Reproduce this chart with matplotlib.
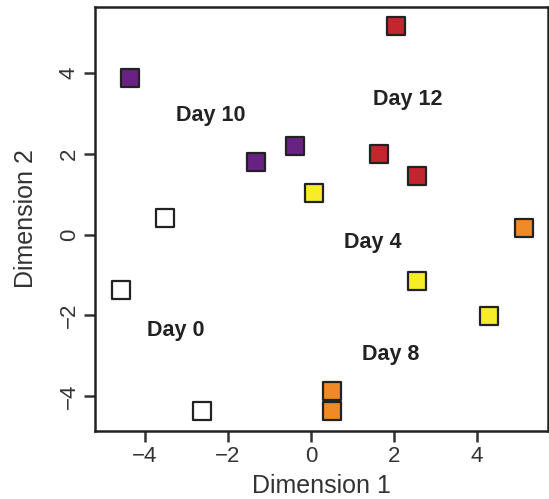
import numpy as np
import matplotlib.pyplot as plt

plt.rcParams['font.family'] = ['Liberation Sans', 'DejaVu Sans']

# MDS coordinates per time point
day0_x = [-3.52, -4.58, -2.63]
day0_y = [0.40, -1.37, -4.37]
day4_x = [0.07, 2.55, 4.29]
day4_y = [1.02, -1.14, -2.01]
day8_x = [5.13, 0.51, 0.51]
day8_y = [0.17, -3.88, -4.37]
day10_x = [-4.36, -1.33, -0.39]
day10_y = [3.88, 1.79, 2.19]
day12_x = [2.05, 1.64, 2.55]
day12_y = [5.17, 1.99, 1.44]

labels = ['Day 0', 'Day 4', 'Day 8', 'Day 10', 'Day 12']
label_x = [-3.25, 1.49, 1.93, -2.41, 2.34]
label_y = [-2.39, -0.20, -2.98, 2.96, 3.35]

fig = plt.figure(figsize=(5.49, 4.99), dpi=100)
ax = fig.add_axes([95/549, 68/499, 453/549, 424/499])

groups = [(day0_x, day0_y, 'white'),
          (day4_x, day4_y, '#f7ec2c'),
          (day8_x, day8_y, '#f08a24'),
          (day10_x, day10_y, '#6a2184'),
          (day12_x, day12_y, '#c1272d')]
for gx, gy, col in groups:
    ax.scatter(gx, gy, marker='s', s=165, c=col, edgecolors='#222222', linewidths=1.6, zorder=3)

for t, lx, ly in zip(labels, label_x, label_y):
    ax.text(lx, ly, t, ha='center', va='center', fontsize=15.5, fontweight='bold', color='#222222')

ax.set_xlim(-5.2, 5.71)
ax.set_ylim(-4.87, 5.64)
ax.set_xticks([-4, -2, 0, 2, 4])
ax.set_yticks([-4, -2, 0, 2, 4])
ax.set_xticklabels(['\u22124', '\u22122', '0', '2', '4'])
ax.set_yticklabels(['\u22124', '\u22122', '0', '2', '4'], rotation=90, va='center')
ax.tick_params(length=8, width=1.8, labelsize=16, colors='#333333', pad=3)
for sp in ax.spines.values():
    sp.set_linewidth(1.8)
    sp.set_color('#222222')
ax.set_xlabel('Dimension 1', fontsize=18, color='#333333', labelpad=5)
ax.set_ylabel('Dimension 2', fontsize=18, color='#333333', labelpad=15)

fig.savefig('out.png', dpi=100)
